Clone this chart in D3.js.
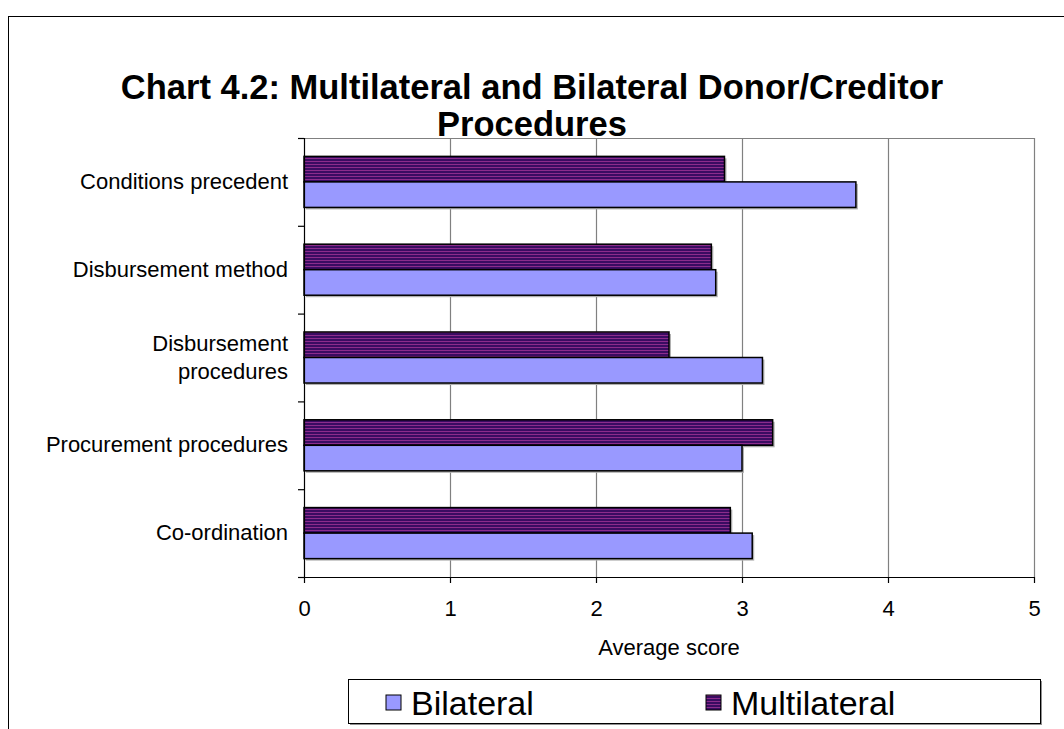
<!DOCTYPE html>
<html>
<head>
<meta charset="utf-8">
<script src="https://cdn.jsdelivr.net/npm/d3@7"></script>
<style>
  body { margin: 0; background: #fff; }
  svg { font-family: "Liberation Sans", Arial, sans-serif; }
</style>
</head>
<body>
<svg id="chart" width="1064" height="729"></svg>
<script>
var categories = ["Conditions precedent", "Disbursement method", "Disbursement procedures", "Procurement procedures", "Co-ordination"];
var categoryLines = [["Conditions precedent"], ["Disbursement method"], ["Disbursement", "procedures"], ["Procurement procedures"], ["Co-ordination"]];
var series = ["Multilateral", "Bilateral"];
var multilateral = [2.88, 2.79, 2.50, 3.21, 2.92];
var bilateral = [3.78, 2.82, 3.14, 3.00, 3.07];
var xTicks = [0, 1, 2, 3, 4, 5];

var svg = d3.select("#chart");

// stripe pattern for the multilateral bars
var defs = svg.append("defs");
var pat = defs.append("pattern")
  .attr("id", "stripes")
  .attr("patternUnits", "userSpaceOnUse")
  .attr("width", 4)
  .attr("height", 3);
pat.append("rect").attr("width", 4).attr("height", 3).attr("fill", "#3a0c62");
pat.append("rect").attr("y", 2).attr("width", 4).attr("height", 1).attr("fill", "#8c2c8c");

// outer chart border
svg.append("rect")
  .attr("x", 8.5).attr("y", 16.5)
  .attr("width", 1100).attr("height", 800)
  .attr("fill", "none").attr("stroke", "#000").attr("stroke-width", 1);

// title
var title = svg.append("text")
  .attr("text-anchor", "middle")
  .attr("font-size", 34.5)
  .attr("font-weight", "bold");
title.append("tspan").attr("x", 532).attr("y", 99).text("Chart 4.2: Multilateral and Bilateral Donor/Creditor");
title.append("tspan").attr("x", 532).attr("y", 136).text("Procedures");

var plotLeft = 304, plotRight = 1034, plotTop = 138, plotBottom = 577;

var x = d3.scaleLinear().domain([0, 5]).range([plotLeft, plotRight]);
var y = d3.scaleBand().domain(categories).range([plotTop, plotBottom]);
var inner = d3.scaleBand().domain(series).range([0, y.bandwidth()]).paddingInner(0).paddingOuter(0.72);

// plot area frame (gray top and right)
svg.append("path")
  .attr("d", "M" + plotLeft + "," + (plotTop + 0.5) + "H" + (plotRight + 0.5) + "V" + plotBottom)
  .attr("fill", "none").attr("stroke", "#808080").attr("stroke-width", 1.2);

// gridlines
svg.selectAll(".grid")
  .data(xTicks.slice(1, -1))
  .enter().append("line")
  .attr("x1", function(d) { return x(d) + 0.5; })
  .attr("x2", function(d) { return x(d) + 0.5; })
  .attr("y1", plotTop).attr("y2", plotBottom)
  .attr("stroke", "#808080").attr("stroke-width", 1.2);

// bars
var data = [];
for (i = 0; i < categories.length; i++) {
  data.push({ cat: categories[i], s: "Multilateral", v: multilateral[i] });
  data.push({ cat: categories[i], s: "Bilateral", v: bilateral[i] });
}

// shadows
svg.selectAll(".shadow")
  .data(data)
  .enter().append("rect")
  .attr("x", x(0) + 2)
  .attr("y", function(d) { return y(d.cat) + inner(d.s) + 2; })
  .attr("width", function(d) { return x(d.v) - x(0); })
  .attr("height", inner.bandwidth())
  .attr("fill", "#b0b0b0");

svg.selectAll(".bar")
  .data(data)
  .enter().append("rect")
  .attr("x", x(0))
  .attr("y", function(d) { return y(d.cat) + inner(d.s); })
  .attr("width", function(d) { return x(d.v) - x(0); })
  .attr("height", inner.bandwidth())
  .attr("fill", function(d) { return d.s === "Bilateral" ? "#9999ff" : "url(#stripes)"; })
  .attr("stroke", "#000").attr("stroke-width", 1.5);

// x axis
var xAxis = svg.append("g")
  .attr("transform", "translate(0," + plotBottom + ")")
  .call(d3.axisBottom(x).tickValues(xTicks).tickFormat(d3.format("d")).tickSize(6).tickPadding(17));
xAxis.select(".domain").attr("d", "M" + (plotLeft - 6) + ",0.5H" + plotRight).attr("stroke", "#000").attr("stroke-width", 1.2);
xAxis.selectAll(".tick line").attr("stroke", "#000").attr("stroke-width", 1.2);
xAxis.selectAll(".tick text").attr("font-size", 22).attr("fill", "#000")
  .attr("font-family", "Liberation Sans, Arial, sans-serif");

// y axis line and category ticks
svg.append("line")
  .attr("x1", plotLeft + 0.5).attr("x2", plotLeft + 0.5)
  .attr("y1", plotTop).attr("y2", plotBottom)
  .attr("stroke", "#000").attr("stroke-width", 1.2);
var bounds = categories.map(function(c) { return y(c); }).concat([plotBottom]);
svg.selectAll(".ytick")
  .data(bounds)
  .enter().append("line")
  .attr("x1", plotLeft - 6).attr("x2", plotLeft)
  .attr("y1", function(d) { return d + 0.5; })
  .attr("y2", function(d) { return d + 0.5; })
  .attr("stroke", "#000").attr("stroke-width", 1.2);

// category labels
var labels = svg.selectAll(".cat")
  .data(categories)
  .enter().append("text")
  .attr("text-anchor", "end")
  .attr("font-size", 22)
  .attr("fill", "#000");
labels.each(function(d, i) {
  var lines = categoryLines[i];
  var cy = y(d) + y.bandwidth() / 2;
  var el = d3.select(this);
  for (k = 0; k < lines.length; k++) {
    el.append("tspan")
      .attr("x", 288)
      .attr("y", cy + 7 + (k - (lines.length - 1) / 2) * 28)
      .text(lines[k]);
  }
});

// x axis title
svg.append("text")
  .attr("x", 669).attr("y", 655)
  .attr("text-anchor", "middle")
  .attr("font-size", 22)
  .text("Average score");

// legend
svg.append("rect")
  .attr("x", 350).attr("y", 681)
  .attr("width", 692).attr("height", 44)
  .attr("fill", "#909090");
svg.append("rect")
  .attr("x", 348.5).attr("y", 679.5)
  .attr("width", 692).attr("height", 44)
  .attr("fill", "#fff").attr("stroke", "#000").attr("stroke-width", 1);

var legendItems = [
  { name: "Bilateral", fill: "#9999ff", x: 386 },
  { name: "Multilateral", fill: "url(#stripes)", x: 706 }
];
var lg = svg.selectAll(".legend")
  .data(legendItems)
  .enter().append("g");
lg.append("rect")
  .attr("x", function(d) { return d.x; })
  .attr("y", 695)
  .attr("width", 15).attr("height", 15)
  .attr("fill", function(d) { return d.fill; })
  .attr("stroke", "#000").attr("stroke-width", 1);
lg.append("text")
  .attr("x", function(d) { return d.x + 25; })
  .attr("y", 715)
  .attr("font-size", 34)
  .text(function(d) { return d.name; });
</script>
</body>
</html>
